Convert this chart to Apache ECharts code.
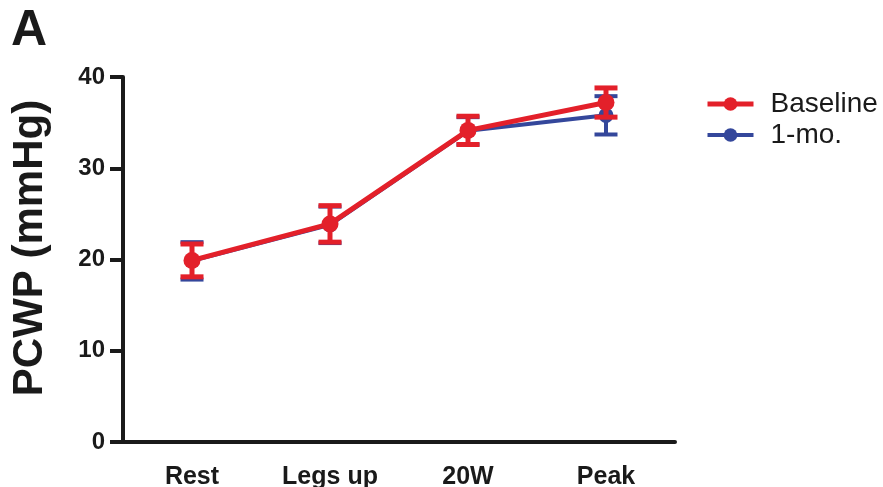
<!DOCTYPE html>
<html>
<head>
<meta charset="utf-8">
<script src="https://cdn.jsdelivr.net/npm/echarts@6/dist/echarts.min.js"></script>
<style>
  html, body { margin: 0; padding: 0; background: #fff; }
  #chart { width: 883px; height: 487px; }
</style>
</head>
<body>
<div id="chart"></div>
<script>
// PCWP by exercise stage, baseline vs one month (mean ± SEM)
const categories = ['Rest', 'Legs up', '20W', 'Peak'];
const baselineMean = [19.9, 23.9, 34.15, 37.2];
const baselineErr  = [1.8, 2.0, 1.55, 1.6];
const oneMonthMean = [19.85, 23.8, 34.1, 35.8];
const oneMonthErr  = [2.05, 2.0, 1.5, 2.1];
const yTicks = [0, 10, 20, 30, 40];

const RED = '#e3202a';
const BLUE = '#34479b';
const FONT = 'Liberation Sans, Arial, Helvetica, sans-serif';

function errorSeries(name, means, errs, color, lineW) {
  return {
    type: 'custom',
    name: name + ' error',
    z: name === 'Baseline' ? 4 : 2,
    silent: true,
    data: means.map((m, i) => [i, m - errs[i], m + errs[i]]),
    renderItem: function (params, api) {
      const x = api.value(0);
      const lo = api.coord([x, api.value(1)]);
      const hi = api.coord([x, api.value(2)]);
      const half = 11.5;
      const style = { stroke: color, lineWidth: lineW, fill: null };
      return {
        type: 'group',
        children: [
          { type: 'line', shape: { x1: lo[0], y1: lo[1], x2: hi[0], y2: hi[1] }, style: style },
          { type: 'line', shape: { x1: lo[0] - half, y1: lo[1], x2: lo[0] + half, y2: lo[1] }, style: style },
          { type: 'line', shape: { x1: hi[0] - half, y1: hi[1], x2: hi[0] + half, y2: hi[1] }, style: style }
        ]
      };
    }
  };
}

const chart = echarts.init(document.getElementById('chart'), null, { renderer: 'canvas' });

chart.setOption({
  backgroundColor: '#ffffff',
  animation: false,
  graphic: [
    {
      type: 'text',
      left: 11,
      top: 6,
      style: { text: 'A', font: 'bold 50px ' + FONT, fill: '#1a1a1a' }
    },
    {
      type: 'text',
      x: 30,
      y: 248,
      rotation: Math.PI / 2,
      style: {
        text: 'PCWP (mmHg)',
        font: 'bold 42px ' + FONT,
        fill: '#1a1a1a',
        align: 'center',
        verticalAlign: 'middle'
      }
    }
  ],
  legend: {
    left: 700,
    top: 85,
    orient: 'vertical',
    itemWidth: 46,
    itemHeight: 17,
    itemGap: 3,
    data: [
      { name: 'Baseline', lineStyle: { width: 5 } },
      { name: '1-mo.', lineStyle: { width: 4 } }
    ],
    textStyle: { fontFamily: FONT, fontSize: 28, color: '#1a1a1a', padding: [0, 0, 0, 12] }
  },
  grid: { left: 123, top: 77, width: 552, height: 365, outerBoundsMode: 'none', containLabel: false },
  xAxis: {
    type: 'category',
    data: categories,
    boundaryGap: true,
    axisLine: { lineStyle: { color: '#1a1a1a', width: 4 } },
    axisTick: { alignWithLabel: true, length: 13, lineStyle: { color: '#1a1a1a', width: 4 } },
    axisLabel: { fontFamily: FONT, fontWeight: 'bold', fontSize: 25, color: '#1a1a1a', margin: 23 }
  },
  yAxis: {
    type: 'value',
    min: yTicks[0],
    max: yTicks[yTicks.length - 1],
    interval: 10,
    axisLine: { show: true, lineStyle: { color: '#1a1a1a', width: 4 } },
    axisTick: { show: true, length: 13, lineStyle: { color: '#1a1a1a', width: 4 } },
    axisLabel: { fontFamily: FONT, fontWeight: 'bold', fontSize: 24, color: '#1a1a1a', margin: 18 },
    splitLine: { show: false }
  },
  series: [
    errorSeries('1-mo.', oneMonthMean, oneMonthErr, BLUE, 4),
    {
      name: '1-mo.',
      type: 'line',
      z: 3,
      data: oneMonthMean,
      symbol: 'circle',
      symbolSize: 15,
      lineStyle: { color: BLUE, width: 4 },
      itemStyle: { color: BLUE }
    },
    errorSeries('Baseline', baselineMean, baselineErr, RED, 5),
    {
      name: 'Baseline',
      type: 'line',
      z: 5,
      data: baselineMean,
      symbol: 'circle',
      symbolSize: 17,
      lineStyle: { color: RED, width: 5 },
      itemStyle: { color: RED }
    }
  ]
});
</script>
</body>
</html>
